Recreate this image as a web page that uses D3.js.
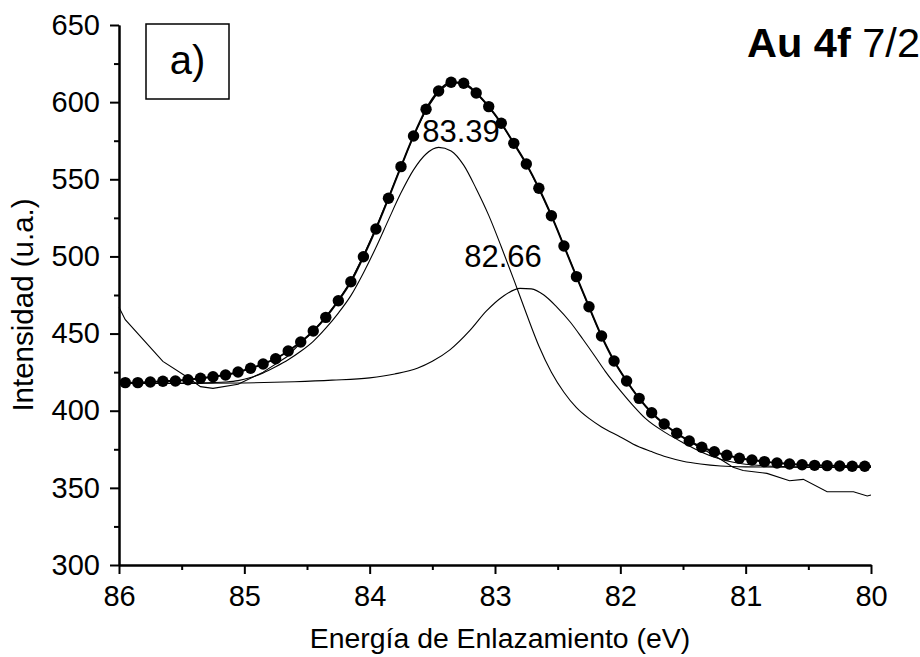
<!DOCTYPE html>
<html>
<head>
<meta charset="utf-8">
<script src="https://cdn.jsdelivr.net/npm/d3@7"></script>
<style>
  html, body { margin: 0; padding: 0; background: #fff; }
  svg { display: block; }
  text { font-family: "Liberation Sans", Arial, sans-serif; fill: #000; }
</style>
</head>
<body>
<svg id="chart" width="920" height="657"></svg>
<script>
// ---- data ----
const xTicks = [86, 85, 84, 83, 82, 81, 80];
const xMinorTicks = [85.5, 84.5, 83.5, 82.5, 81.5, 80.5];
const yTicks = [300, 350, 400, 450, 500, 550, 600, 650];
const yMinorTicks = [325, 375, 425, 475, 525, 575, 625];

// measured points (filled circles)
const dotEnergy = [85.95, 85.85, 85.75, 85.65, 85.55, 85.45, 85.35, 85.25, 85.15, 85.05,
  84.95, 84.85, 84.75, 84.65, 84.55, 84.45, 84.35, 84.25, 84.15, 84.05,
  83.95, 83.85, 83.75, 83.65, 83.55, 83.45, 83.35, 83.25, 83.15, 83.05,
  82.95, 82.85, 82.75, 82.65, 82.55, 82.45, 82.35, 82.25, 82.15, 82.05,
  81.95, 81.85, 81.75, 81.65, 81.55, 81.45, 81.35, 81.25, 81.15, 81.05,
  80.95, 80.85, 80.75, 80.65, 80.55, 80.45, 80.35, 80.25, 80.15, 80.05];
const dotIntensity = [418.2, 418.2, 418.6, 419.1, 419.3, 420.1, 421.0, 422.0, 423.1, 425.1,
  427.5, 430.3, 433.7, 438.7, 444.5, 451.7, 460.5, 471.3, 483.6, 499.8,
  517.8, 537.7, 558.2, 578.1, 595.4, 607.2, 612.9, 612.2, 605.9, 597.1,
  586.3, 573.3, 559.9, 544.2, 526.4, 506.8, 486.9, 467.4, 448.4, 432.2,
  419.3, 408.0, 398.7, 391.4, 385.4, 380.4, 376.3, 373.4, 371.1, 369.2,
  368.1, 367.0, 366.1, 365.5, 365.0, 364.6, 364.4, 364.2, 364.0, 364.0];
// end points of the fitted envelope
const envelopeEndEnergy = [86.0, 80.0];
const envelopeEndIntensity = [418.2, 364.0];

// raw spectrum (thin noisy line)
const rawEnergy = [86.00, 85.95, 85.65, 85.46, 85.35, 85.25, 85.05, 84.85, 84.66, 84.55,
  84.45, 84.35, 84.25, 84.15, 84.05, 83.95, 83.85, 83.75, 83.65, 83.55,
  83.45, 83.35, 83.25, 83.15, 83.05, 82.95, 82.85, 82.75, 82.65, 82.55,
  82.45, 82.35, 82.25, 82.15, 82.05, 81.95, 81.85, 81.75, 81.65, 81.55,
  81.45, 81.35, 81.25, 81.15, 81.10, 81.02, 80.83, 80.65, 80.54, 80.35,
  80.14, 80.03, 80.00];
const rawIntensity = [467.0, 459.0, 432.0, 422.0, 415.6, 414.5, 417.1, 425.0, 435.0, 444.0,
  451.5, 461.0, 471.5, 484.0, 500.5, 518.5, 538.0, 558.5, 578.0, 595.0,
  607.0, 613.0, 612.0, 606.0, 597.0, 586.0, 573.5, 560.0, 544.0, 526.5,
  507.0, 487.0, 467.0, 448.0, 432.0, 419.0, 408.0, 398.5, 391.0, 385.0,
  380.0, 375.5, 371.0, 366.0, 363.3, 361.2, 359.4, 354.6, 355.5, 347.5,
  347.5, 344.7, 345.4];

// component peak 83.39 eV
const peak1Energy = [86.0, 85.5, 85.25, 85.15, 85.05, 84.95, 84.85, 84.75, 84.65, 84.55,
  84.45, 84.35, 84.25, 84.15, 84.05, 83.95, 83.85, 83.75, 83.65, 83.55,
  83.45, 83.35, 83.25, 83.15, 83.05, 82.95, 82.85, 82.75, 82.65, 82.55,
  82.45, 82.35, 82.25, 82.15, 82.0, 81.9, 81.75, 81.63, 81.5, 81.36,
  81.2, 81.0, 80.5, 80.0];
const peak1Intensity = [417.6, 417.8, 418.2, 418.6, 419.5, 421.5, 424.5, 428.5, 433.0, 438.5,
  445.0, 453.5, 463.3, 474.6, 489.3, 505.8, 523.7, 541.2, 556.1, 566.4,
  570.7, 568.4, 559.2, 543.9, 526.6, 506.3, 485.0, 463.0, 442.0, 425.0,
  412.0, 402.0, 395.0, 389.5, 383.0, 378.5, 373.5, 370.0, 367.3, 365.5,
  364.2, 363.6, 363.3, 363.2];

// component peak 82.66 eV
const peak2Energy = [86.0, 85.5, 85.0, 84.6, 84.3, 84.0, 83.8, 83.62, 83.5, 83.36,
  83.2, 83.07, 82.94, 82.80, 82.71, 82.61, 82.51, 82.4, 82.3, 82.2,
  82.12, 82.0, 81.9, 81.8, 81.63, 81.5, 81.36, 81.2, 81.0, 80.7,
  80.3, 80.0];
const peak2Intensity = [417.6, 417.7, 418.0, 418.8, 419.8, 421.3, 423.8, 427.5, 432.0, 439.4,
  452.0, 464.5, 473.9, 479.3, 479.0, 475.0, 467.5, 457.5, 446.5, 435.0,
  425.5, 413.0, 403.5, 395.0, 385.3, 379.3, 373.4, 368.5, 365.3, 363.8,
  363.4, 363.3];

const peakLabels = ["83.39", "82.66"];

// ---- drawing ----
const svg = d3.select("#chart");
const x = d3.scaleLinear().domain([86, 80]).range([119, 871]);
const y = d3.scaleLinear().domain([300, 650]).range([565, 25]);

const zip = (a, b) => a.map((v, i) => [v, b[i]]);
const line = d3.line().x(d => x(d[0])).y(d => y(d[1]));
const smooth = d3.line().x(d => x(d[0])).y(d => y(d[1])).curve(d3.curveMonotoneX);
const sortAsc = arr => arr.slice().sort((a, b) => x(a[0]) - x(b[0]));

const g = svg.append("g");

// components
g.append("path").attr("d", smooth(sortAsc(zip(peak1Energy, peak1Intensity))))
  .attr("fill", "none").attr("stroke", "#000").attr("stroke-width", 1.1);
g.append("path").attr("d", smooth(sortAsc(zip(peak2Energy, peak2Intensity))))
  .attr("fill", "none").attr("stroke", "#000").attr("stroke-width", 1.1);
// raw
g.append("path").attr("d", line(sortAsc(zip(rawEnergy, rawIntensity))))
  .attr("fill", "none").attr("stroke", "#000").attr("stroke-width", 1.1);
// envelope
const envPts = [[envelopeEndEnergy[0], envelopeEndIntensity[0]]]
  .concat(zip(dotEnergy, dotIntensity))
  .concat([[envelopeEndEnergy[1], envelopeEndIntensity[1]]]);
g.append("path").attr("d", smooth(sortAsc(envPts)))
  .attr("fill", "none").attr("stroke", "#000").attr("stroke-width", 2);
// dots
g.selectAll("circle.dot").data(zip(dotEnergy, dotIntensity)).enter()
  .append("circle").attr("class", "dot")
  .attr("cx", d => x(d[0])).attr("cy", d => y(d[1])).attr("r", 5.7)
  .attr("fill", "#000");

// axes
const xAxis = d3.axisBottom(x).tickValues(xTicks).tickFormat(d3.format("d"))
  .tickSize(9).tickSizeOuter(0).tickPadding(11);
const xMinor = d3.axisBottom(x).tickValues(xMinorTicks).tickFormat("").tickSize(5).tickSizeOuter(0);
const yAxis = d3.axisLeft(y).tickValues(yTicks).tickFormat(d3.format("d"))
  .tickSize(9).tickSizeOuter(0).tickPadding(10);
const yMinor = d3.axisLeft(y).tickValues(yMinorTicks).tickFormat("").tickSize(5).tickSizeOuter(0);

function styleAxis(sel) {
  sel.selectAll("path.domain").attr("stroke", "#000").attr("stroke-width", 2);
  sel.selectAll(".tick line").attr("stroke", "#000").attr("stroke-width", 2);
  sel.selectAll(".tick text").style("font-family", '"Liberation Sans", Arial, sans-serif')
    .style("font-size", "29px").attr("fill", "#000");
}
svg.append("g").attr("transform", "translate(0,565)").call(xAxis).call(styleAxis);
svg.append("g").attr("transform", "translate(0,565)").call(xMinor).call(styleAxis);
svg.append("g").attr("transform", "translate(119,0)").call(yAxis).call(styleAxis);
svg.append("g").attr("transform", "translate(119,0)").call(yMinor).call(styleAxis);

// axis titles
svg.append("text").attr("x", 500).attr("y", 648).attr("text-anchor", "middle")
  .style("font-size", "28.4px").text("Energía de Enlazamiento (eV)");
svg.append("text").attr("transform", "translate(33,305) rotate(-90)")
  .attr("text-anchor", "middle").style("font-size", "29.5px").text("Intensidad (u.a.)");

// a) box
svg.append("rect").attr("x", 146).attr("y", 24).attr("width", 83).attr("height", 75)
  .attr("fill", "none").attr("stroke", "#000").attr("stroke-width", 1.5);
svg.append("text").attr("x", 187.5).attr("y", 74).attr("text-anchor", "middle")
  .style("font-size", "40px").text("a)");

// title
const t = svg.append("text").attr("x", 747).attr("y", 57).style("font-size", "41.5px");
t.append("tspan").style("font-weight", "bold").text("Au 4f");
t.append("tspan").text(" 7/2");

// peak labels
svg.append("text").attr("x", 461).attr("y", 141.5).attr("text-anchor", "middle")
  .style("font-size", "31px").text(peakLabels[0]);
svg.append("text").attr("x", 503).attr("y", 266.5).attr("text-anchor", "middle")
  .style("font-size", "31px").text(peakLabels[1]);
</script>
</body>
</html>
